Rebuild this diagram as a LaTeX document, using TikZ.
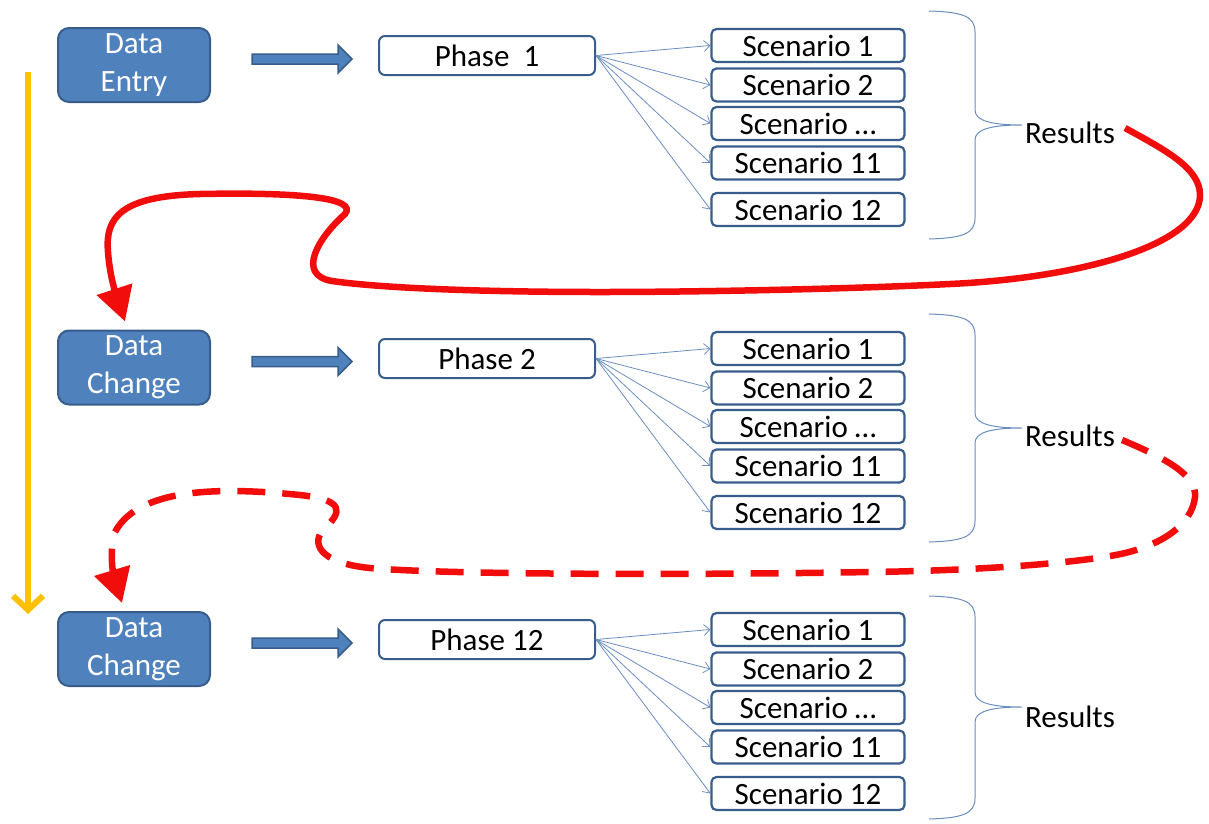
\documentclass[tikz,border=0pt]{standalone}
\usepackage{fontspec}
\setmainfont{Carlito}
\usetikzlibrary{arrows.meta,calc}
\definecolor{boxfill}{HTML}{4F81BD}
\definecolor{boxline}{HTML}{385D8A}
\definecolor{thinblue}{HTML}{6A8DC0}
\definecolor{goldc}{HTML}{FFC000}
\definecolor{redc}{HTML}{F20D0D}
\begin{document}
\begin{tikzpicture}[x=1pt,y=-1pt,
  databox/.style={rectangle, rounded corners=11pt, fill=boxfill, draw=boxline, line width=2pt, text=white, minimum width=152pt, minimum height=74pt, align=center, font=\fontsize{31}{38}\selectfont, inner sep=0pt},
  phasebox/.style={rectangle, rounded corners=6pt, draw=boxline, line width=2pt, fill=white, minimum width=216pt, minimum height=39pt, font=\fontsize{31}{36}\selectfont, inner sep=0pt},
  scenbox/.style={rectangle, rounded corners=5pt, draw=boxline, line width=2.2pt, fill=white, minimum width=193pt, minimum height=33pt, font=\fontsize{31}{36}\selectfont, inner sep=0pt},
  restext/.style={font=\fontsize{31}{36}\selectfont, inner sep=0pt},
  fan/.style={draw=thinblue, line width=0.8pt, -{Straight Barb[length=6pt,width=11pt]}},
  bracestyle/.style={draw=thinblue, line width=1pt},
  blockarrow/.style={fill=boxfill, draw=boxline, line width=1.5pt},
  redloop/.style={draw=redc, line width=6.5pt, -{Triangle[length=34pt,width=36pt]}},
  goldarrow/.style={draw=goldc, line width=6pt, -{Straight Barb[length=14pt,width=30pt]}},
]
\useasboundingbox (0,0) rectangle (1209,823);

% data boxes
\node[databox] (d1) at (134,65) {Data\\Entry};
\node[databox] (d2) at (134,367.5) {Data\\Change};
\node[databox] (d3) at (134,649) {Data\\Change};

% block arrows
\foreach \n in {1,2,3}{
  \draw[blockarrow] ($(d\n.east)+(41,-11)$) -- ++(86,0) -- ++(0,-9) -- ++(14,14) -- ++(-14,14) -- ++(0,-9) -- ++(-86,0) -- cycle;
}

% phase boxes
\node[phasebox] (p1) at (487,55.5) {Phase\ \ 1};
\node[phasebox] (p2) at (487,358.5) {Phase 2};
\node[phasebox] (p3) at (487,639.5) {Phase 12};

% scenario boxes and fan arrows
\foreach \r/\off in {1/0,2/303,3/584}{
  \foreach \k/\yy/\t in {1/45.5/Scenario 1, 2/85/Scenario 2, 3/123.5/Scenario …, 4/163/Scenario 11, 5/209.5/Scenario 12}{
    \node[scenbox] (s\r-\k) at (808,\yy+\off) {\t};
    \draw[fan] (p\r.east) -- (s\r-\k.west);
  }
}

% results
\node[restext] (r1) at (1070,133) {Results};
\node[restext] (r2) at (1070,436) {Results};
\node[restext] (r3) at (1070,717) {Results};

% braces
\foreach \tp/\tip/\bt in {12/125/238, 315/428/541, 597/707/818}{
  \draw[bracestyle] (929,\tp-1) .. controls (962,\tp) and (975,\tp+4) .. (975,\tp+20)
    -- (975,\tip-15) .. controls (975,\tip-4) and (992,\tip) .. (1022,\tip)
    .. controls (992,\tip) and (975,\tip+4) .. (975,\tip+15)
    -- (975,\bt-20) .. controls (975,\bt-4) and (962,\bt) .. (929,\bt+1);
}

% yellow arrow
\coordinate (ytop) at (28,72);
\coordinate (ybot) at (28,614);
\draw[goldarrow] (ytop) -- (ybot);

% red solid loop
\draw[redloop] ($(r1.east)+(10,-5)$) .. controls (1165,150) and (1200,168) .. (1200,195)
 .. controls (1200,245) and (1080,278) .. (950,284)
 .. controls (850,289) and (700,292) .. (600,292)
 .. controls (480,292) and (380,288) .. (332,281)
 .. controls (296,275) and (318,238) .. (345,214)
 .. controls (358,198) and (300,192) .. (200,194)
 .. controls (120,196) and (105,218) .. (108,252)
 .. controls (110,280) and (118,300) .. ($(d2.north)+(-9,-8)$);

% red dashed loop
\draw[redloop, dash pattern=on 28pt off 17pt] ($(r2.east)+(7,4)$) .. controls (1165,458) and (1197,475) .. (1195,497)
 .. controls (1192,525) and (1160,548) .. (1110,556)
 .. controls (1050,566) and (950,571) .. (870,572)
 .. controls (700,575) and (450,575) .. (370,568)
 .. controls (318,563) and (310,542) .. (325,528)
 .. controls (342,512) and (345,500) .. (300,495)
 .. controls (230,488) and (140,485) .. (115,532)
 .. controls (108,555) and (115,580) .. ($(d3.north)+(-12,-8)$);
\end{tikzpicture}
\end{document}
